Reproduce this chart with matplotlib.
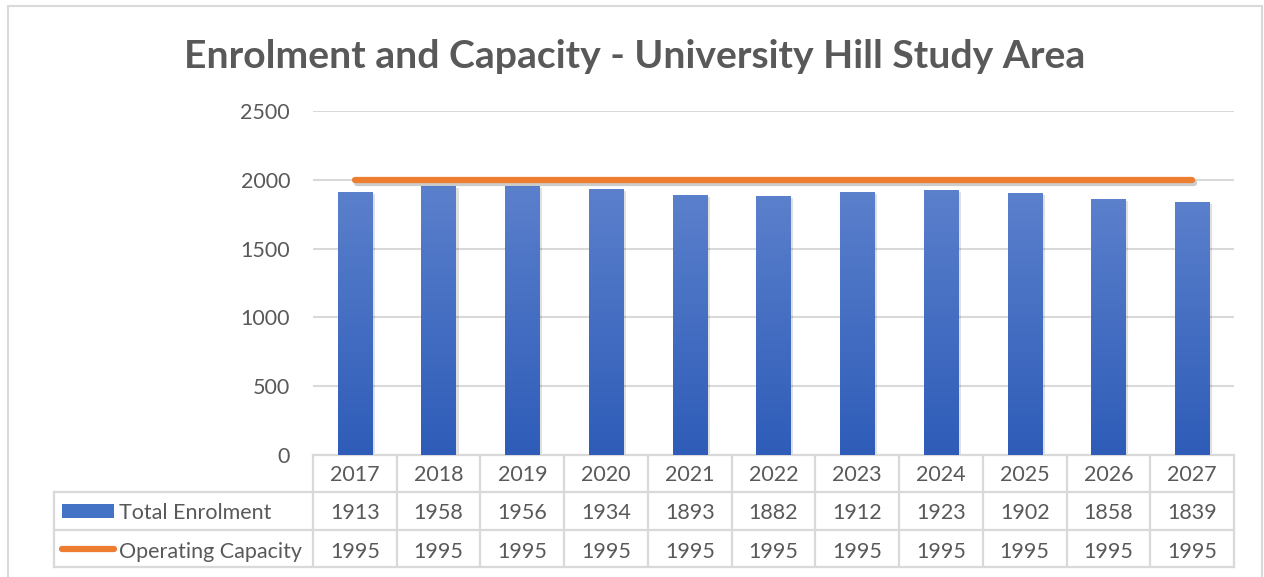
import numpy as np
import matplotlib.pyplot as plt
import matplotlib.patheffects as pe
from matplotlib.transforms import blended_transform_factory
from matplotlib.patches import Rectangle
from matplotlib.lines import Line2D

# --- Data ---
years = ['2017', '2018', '2019', '2020', '2021', '2022', '2023', '2024', '2025', '2026', '2027']
total_enrolment = [1913, 1958, 1956, 1934, 1893, 1882, 1912, 1923, 1902, 1858, 1839]
operating_capacity = [1995, 1995, 1995, 1995, 1995, 1995, 1995, 1995, 1995, 1995, 1995]
series_names = ['Total Enrolment', 'Operating Capacity']
y_ticks = [0, 500, 1000, 1500, 2000, 2500]

# --- Styles ---
text_color = '#595959'
grid_color = '#D9D9D9'
bar_top = np.array([0x5B, 0x80, 0xCC]) / 255
bar_bottom = np.array([0x2E, 0x5C, 0xB8]) / 255
line_color = '#ED7D31'
font = 'Lato'
fs = 15.5

W, H = 1264, 577
fig = plt.figure(figsize=(W / 100, H / 100), dpi=100)

# outer chart border
fig.patches.append(Rectangle((8 / W, -0.01), (1262 - 8) / W, 1 - 6 / H + 0.01,
                             transform=fig.transFigure, fill=False,
                             edgecolor=grid_color, linewidth=1.5))

ax_l, ax_r, ax_t, ax_b = 313, 1234, 111, 455
ax = fig.add_axes([ax_l / W, 1 - ax_b / H, (ax_r - ax_l) / W, (ax_b - ax_t) / H])

x = np.arange(len(years))
bar_w = 0.41

# gradient for bars
grad = np.linspace(0, 1, 256)[:, None, None]
grad_img = bar_top * (1 - grad) + bar_bottom * grad

bars = ax.bar(x, total_enrolment, width=bar_w, color=bar_bottom, zorder=2,
              path_effects=[pe.SimplePatchShadow(offset=(2, -1.5), alpha=0.12, shadow_rgbFace='black'),
                            pe.Normal()])
for b in bars:
    x0, y0 = b.get_x(), b.get_y()
    im = ax.imshow(grad_img, extent=[x0, x0 + b.get_width(), y0, y0 + b.get_height()],
                   aspect='auto', origin='upper', zorder=3)
    im.set_clip_path(b)

ax.plot(x, operating_capacity, color=line_color, linewidth=4.5, solid_capstyle='round', zorder=4,
        path_effects=[pe.SimpleLineShadow(offset=(1.5, -2), alpha=0.2, shadow_color='black'),
                      pe.Normal()])

ax.set_xlim(-0.5, len(years) - 0.5)
ax.set_ylim(0, 2500)
ax.set_yticks(y_ticks)
ax.set_yticklabels([str(v) for v in y_ticks], fontsize=fs, color=text_color, fontname=font)
ax.tick_params(axis='y', length=0, pad=16.5)
ax.set_xticks([])
ax.grid(axis='y', color=grid_color, linewidth=1.5, zorder=0)
ax.set_axisbelow(True)
for s in ax.spines.values():
    s.set_visible(False)

# --- Data table below the axis ---
tr = blended_transform_factory(ax.transData, ax.transAxes)
h_px = ax_b - ax_t
row_edges = [0, -37 / h_px, -75 / h_px, -112 / h_px]
legend_left = -0.5 - (ax_l - 54) / ((ax_r - ax_l) / len(years))
lkw = dict(color=grid_color, linewidth=1.6, transform=tr, clip_on=False)

# horizontal lines
ax.add_line(Line2D([-0.5, len(years) - 0.5], [row_edges[0]] * 2, **lkw))
for r in row_edges[1:]:
    ax.add_line(Line2D([legend_left, len(years) - 0.5], [r] * 2, **lkw))
# vertical lines
for i in range(len(years) + 1):
    ax.add_line(Line2D([i - 0.5] * 2, [row_edges[0], row_edges[-1]], **lkw))
ax.add_line(Line2D([legend_left] * 2, [row_edges[1], row_edges[-1]], **lkw))

tkw = dict(transform=tr, ha='center', va='center', fontsize=fs, color=text_color,
           fontname=font, clip_on=False)
rows = [years, total_enrolment, operating_capacity]
text_shift = [-1.5 / h_px, -2 / h_px, -3 / h_px]
for ri, vals in enumerate(rows):
    yc = (row_edges[ri] + row_edges[ri + 1]) / 2 + text_shift[ri]
    for i, v in enumerate(vals):
        ax.text(i, yc, str(v), **tkw)

# legend keys in table
px = (ax_r - ax_l) / len(years)
def xd(pix):
    return -0.5 + (pix - ax_l) / px

yc1 = (row_edges[1] + row_edges[2]) / 2
yc2 = (row_edges[2] + row_edges[3]) / 2
ax.add_patch(Rectangle((xd(62), yc1 - 7 / h_px), xd(114) - xd(62), 14 / h_px,
                       transform=tr, clip_on=False, facecolor='#4472C4', edgecolor='none'))
ax.add_line(Line2D([xd(62), xd(114)], [yc2, yc2], color=line_color, linewidth=4.5,
                   solid_capstyle='round', transform=tr, clip_on=False))
ax.text(xd(119), yc1 + text_shift[1], series_names[0], transform=tr, ha='left', va='center',
        fontsize=fs, color=text_color, fontname=font, clip_on=False)
ax.text(xd(119), yc2 + text_shift[2], series_names[1], transform=tr, ha='left', va='center',
        fontsize=fs, color=text_color, fontname=font, clip_on=False)

fig.text(635 / W, 1 - 56 / H, 'Enrolment and Capacity - University Hill Study Area',
         ha='center', va='center', fontsize=28.2, fontweight='bold', color=text_color, fontname=font)

fig.savefig('out.png', dpi=100)
